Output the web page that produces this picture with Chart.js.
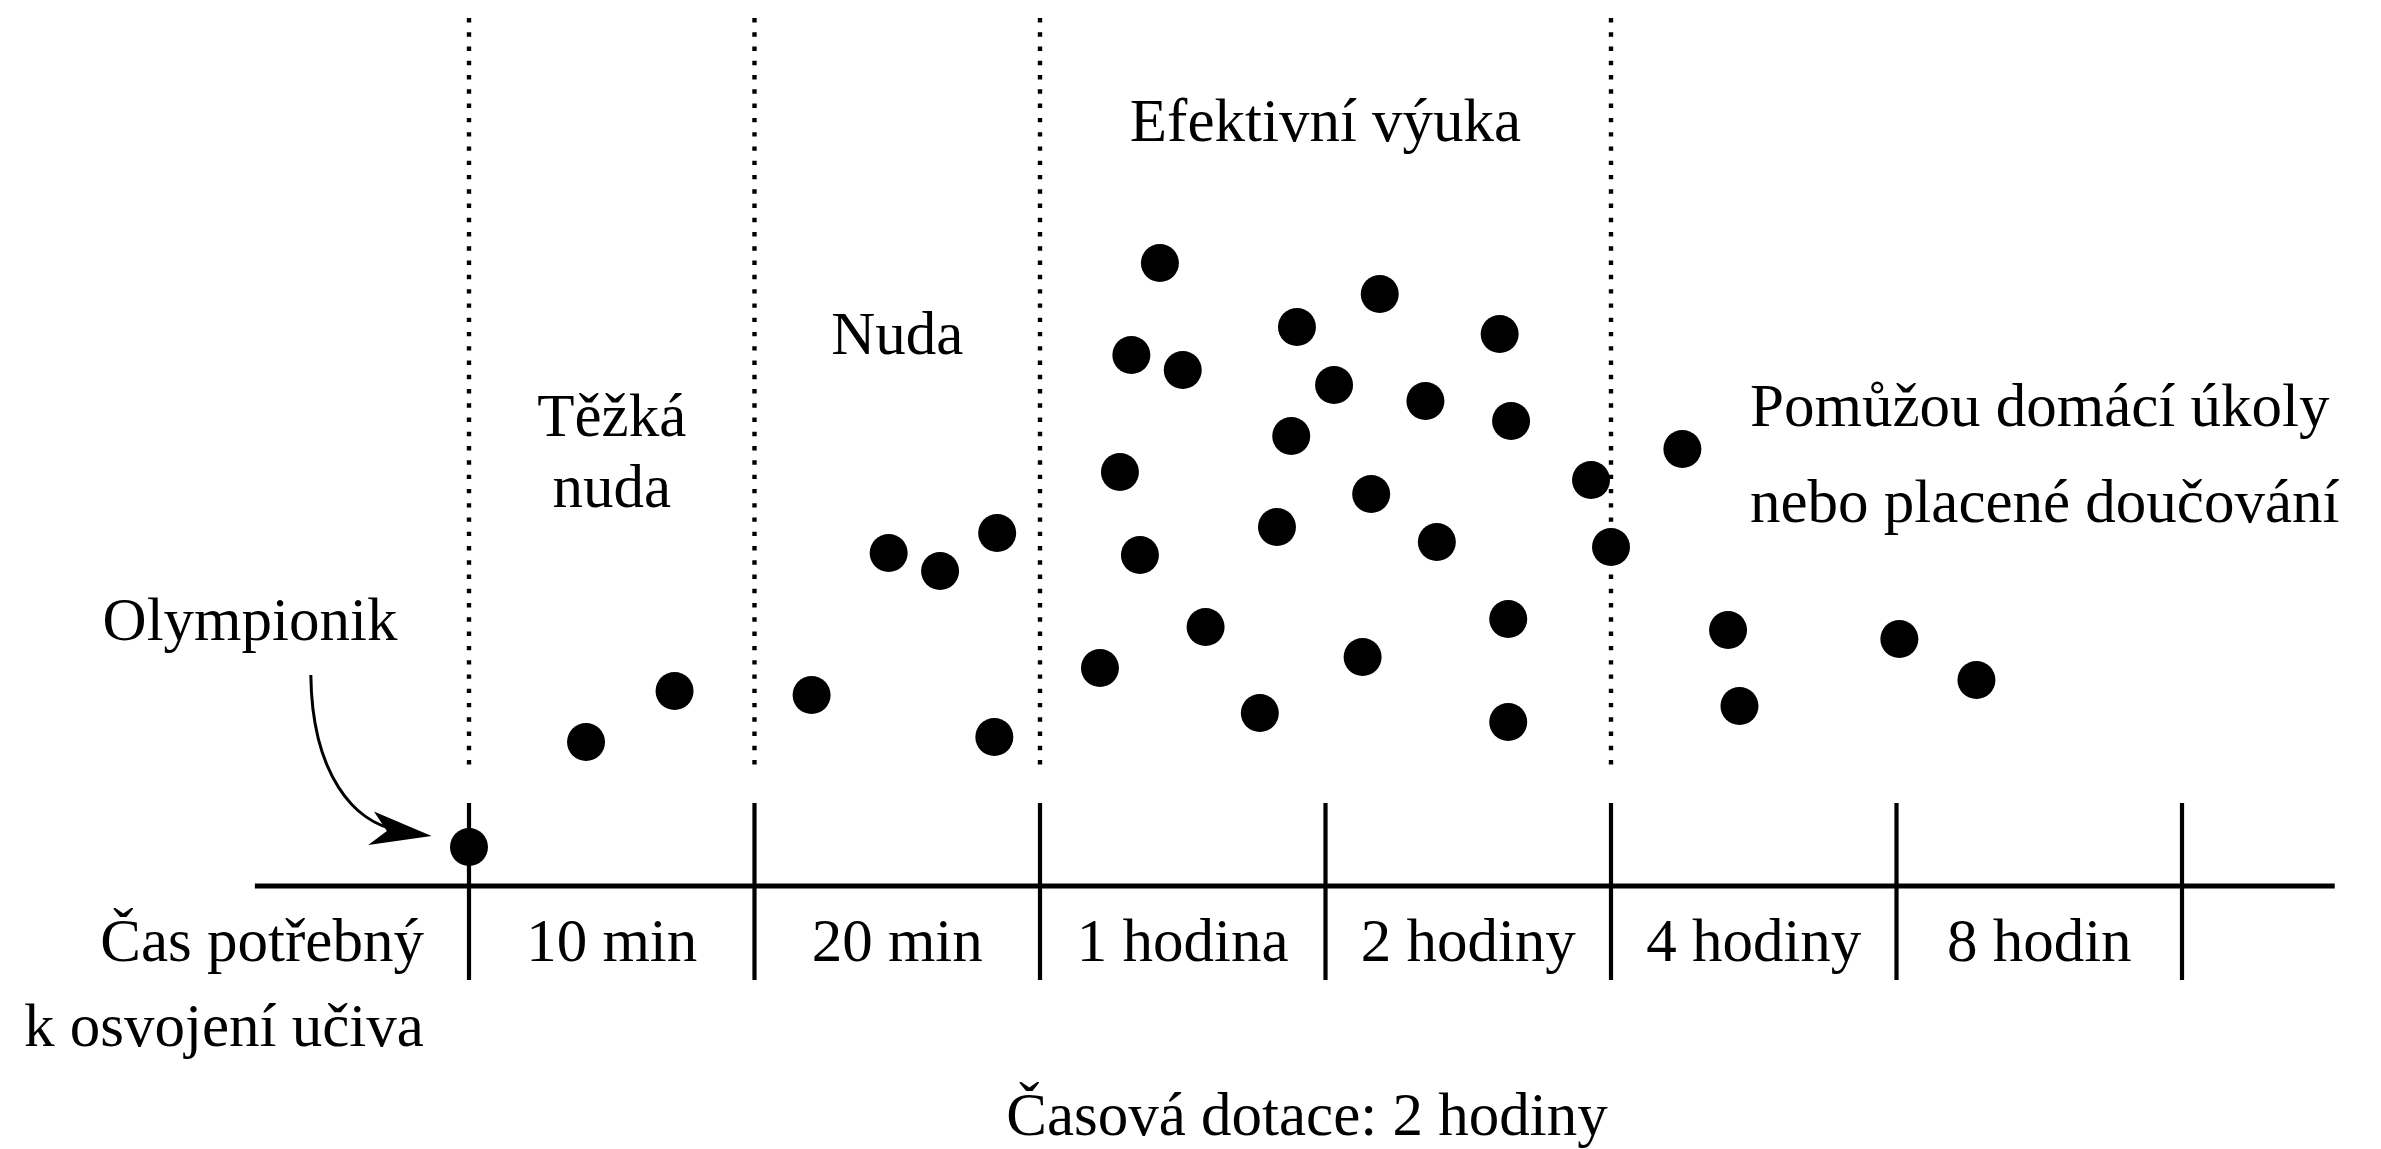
<!DOCTYPE html>
<html>
<head>
<meta charset="utf-8">
<script src="https://cdn.jsdelivr.net/npm/chart.js@4.4.0/dist/chart.umd.min.js"></script>
<style>
  html, body { margin: 0; padding: 0; background: #fff; }
  canvas { display: block; }
</style>
</head>
<body>
<canvas id="chart" width="2381" height="1149"></canvas>
<script>
// time needed to learn the topic, one column per label
const timeLabels = ['10 min', '20 min', '1 hodina', '2 hodiny', '4 hodiny', '8 hodin'];
const tickPositions = [0, 1, 2, 3, 4, 5, 6];
const dottedPositions = [0, 1, 2, 4];

// students (first one is the "Olympionik")
const studentX = [0.00, 0.41, 0.72, 1.20, 1.47, 1.65, 1.85, 1.84,
    2.42, 2.32, 2.50, 2.28, 2.35, 2.21, 2.58, 2.77,
    2.90, 3.19, 3.03, 2.88, 2.83, 3.16, 3.13, 3.35, 3.39,
    3.61, 3.65, 3.64, 3.64, 3.93, 4.00, 4.25, 4.41, 4.45, 5.01, 5.28];
const studentY = [0.38, 1.43, 1.94, 1.90, 3.32, 3.14, 3.52, 1.48,
    6.22, 5.30, 5.15, 4.13, 3.30, 2.17, 2.58, 1.72,
    5.58, 5.91, 5.00, 4.49, 3.58, 3.91, 2.28, 4.84, 3.43,
    5.51, 4.64, 2.66, 1.63, 4.05, 3.38, 4.36, 2.55, 1.79, 2.46, 2.05];

const FONT = '61px "Liberation Serif", "DejaVu Serif", serif';

const points = studentX.map((x, i) => ({ x: x, y: studentY[i] }));

const datasets = [{
    type: 'scatter',
    data: points,
    pointRadius: 19,
    pointHoverRadius: 19,
    backgroundColor: '#000',
    borderWidth: 0,
}];

// main axis line
datasets.push({
    type: 'line',
    data: [{ x: -0.75, y: -0.01 }, { x: 6.535, y: -0.01 }],
    borderColor: '#000',
    borderWidth: 5,
    pointRadius: 0,
});

// tick marks crossing the axis
tickPositions.forEach(t => {
    datasets.push({
        type: 'line',
        data: [{ x: t, y: 0.82 }, { x: t, y: -0.95 }],
        borderColor: '#000',
        borderWidth: 4.2,
        pointRadius: 0,
    });
});

// dotted separators
dottedPositions.forEach(t => {
    datasets.push({
        type: 'line',
        data: [{ x: t, y: 8.67 }, { x: t, y: 1.2 }],
        borderColor: '#000',
        borderWidth: 4.4,
        borderDash: [4.4, 9.87],
        borderCapStyle: 'butt',
        pointRadius: 0,
    });
});

const textPlugin = {
    id: 'texts',
    afterDraw(chart) {
        const ctx = chart.ctx;
        const xs = chart.scales.x;
        const ys = chart.scales.y;
        const px = v => xs.getPixelForValue(v);
        const py = v => ys.getPixelForValue(v);

        ctx.save();
        ctx.fillStyle = '#000';
        ctx.font = FONT;
        ctx.textBaseline = 'alphabetic';

        function text(str, x, y, align) {
            ctx.textAlign = align || 'center';
            ctx.fillText(str, px(x), py(y));
        }

        // labels under the axis
        timeLabels.forEach((label, i) => text(label, i + 0.5, -0.76));
        text('Čas potřebný', -0.158, -0.76, 'right');
        text('k osvojení učiva', -0.158, -1.61, 'right');
        text('Časová dotace: 2 hodiny', 2.935, -2.50);

        // region notes
        text('Těžká', 0.5, 4.49);
        text('nuda', 0.5, 3.78);
        text('Nuda', 1.5, 5.31);
        text('Efektivní výuka', 3.0, 7.44);
        text('Pomůžou domácí úkoly', 4.487, 4.59, 'left');
        text('nebo placené doučování', 4.487, 3.63, 'left');
        text('Olympionik', -0.767, 2.45);

        // curved arrow to the first student
        ctx.strokeStyle = '#000';
        ctx.lineWidth = 3;
        ctx.beginPath();
        ctx.moveTo(px(-0.554), py(2.10));
        ctx.bezierCurveTo(px(-0.55), py(1.10), px(-0.40), py(0.62), px(-0.25), py(0.55));
        ctx.stroke();

        const tipX = px(-0.131), tipY = py(0.49);
        const ang = Math.atan2(5, 45);
        ctx.translate(tipX, tipY);
        ctx.rotate(ang);
        ctx.beginPath();
        ctx.moveTo(0, 0);
        ctx.lineTo(-60, -18);
        ctx.lineTo(-45, 0);
        ctx.lineTo(-62, 16);
        ctx.closePath();
        ctx.fill();
        ctx.restore();
    }
};

new Chart(document.getElementById('chart'), {
    type: 'scatter',
    data: { datasets: datasets },
    options: {
        responsive: false,
        animation: false,
        devicePixelRatio: 1,
        layout: { padding: 0, autoPadding: false },
        plugins: {
            legend: { display: false },
            tooltip: { enabled: false },
        },
        scales: {
            x: { type: 'linear', min: -1.6427, max: 6.697, display: false },
            y: { type: 'linear', min: -2.64, max: 8.85, display: false },
        },
    },
    plugins: [textPlugin],
});
</script>
</body>
</html>
